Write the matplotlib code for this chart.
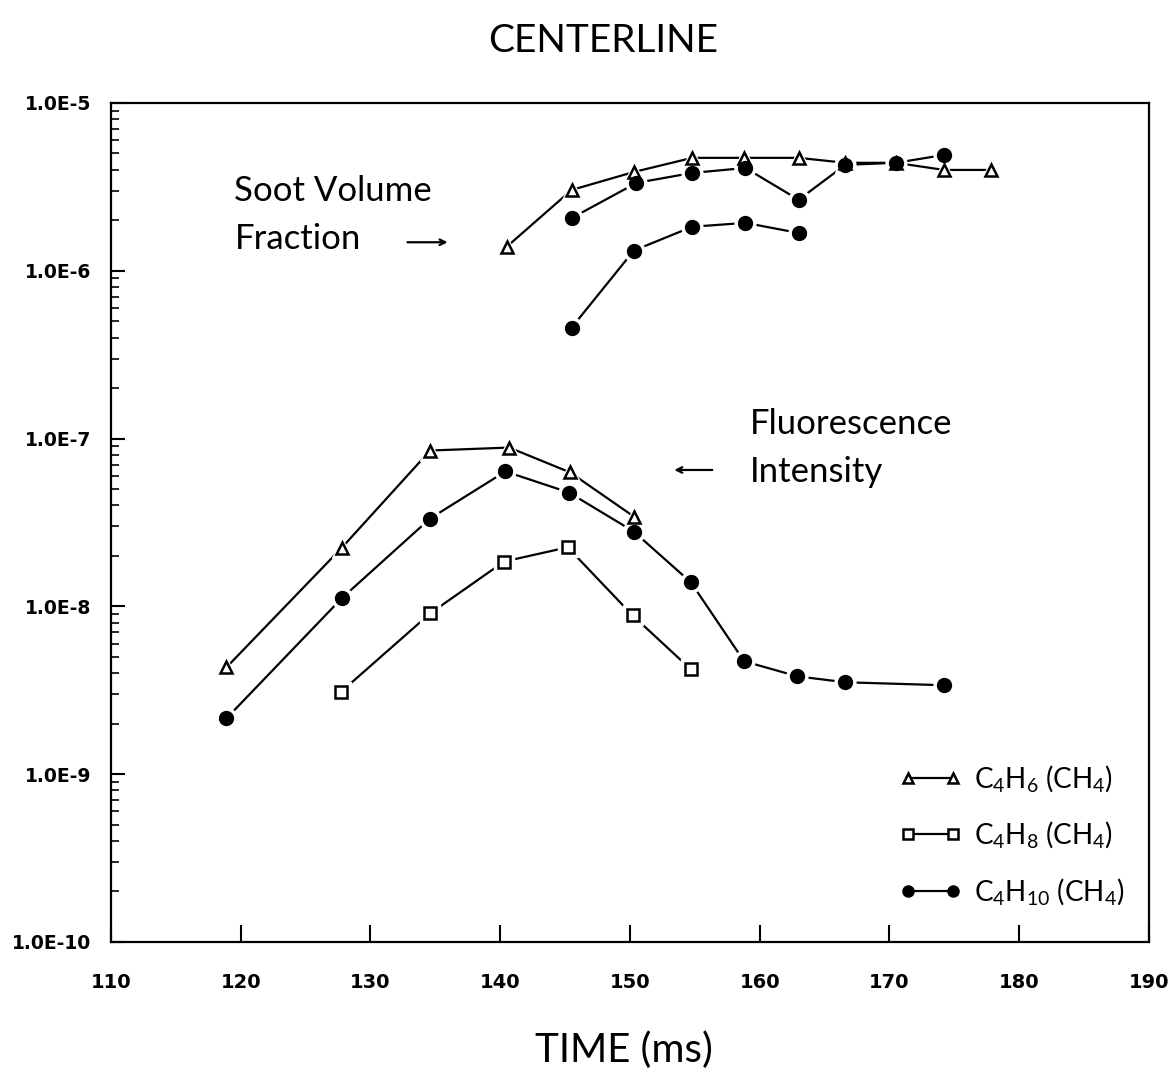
import numpy as np
import matplotlib.pyplot as plt
from matplotlib.lines import Line2D
from matplotlib.ticker import FixedLocator, FixedFormatter, LogLocator, NullFormatter

plt.rcParams['font.family'] = ['Lato', 'DejaVu Sans']
plt.rcParams['mathtext.fontset'] = 'custom'
plt.rcParams['mathtext.rm'] = 'Lato'
plt.rcParams['mathtext.it'] = 'Lato:italic'

# soot volume fraction (upper group)
t_soot_c4h6 = [140.5, 145.5, 150.3, 154.8, 158.8, 163.0, 166.6, 170.5, 174.2, 177.8]
v_soot_c4h6 = [1.39e-6, 3.03e-6, 3.88e-6, 4.71e-6, 4.71e-6, 4.71e-6, 4.40e-6, 4.40e-6, 3.99e-6, 3.99e-6]

t_soot_c4h10a = [145.5, 150.5, 154.8, 158.9, 163.0, 166.6, 170.5, 174.2]
v_soot_c4h10a = [2.06e-6, 3.34e-6, 3.83e-6, 4.10e-6, 2.65e-6, 4.28e-6, 4.40e-6, 4.90e-6]

t_soot_c4h10b = [145.5, 150.3, 154.8, 158.9, 163.0]
v_soot_c4h10b = [4.58e-7, 1.32e-6, 1.83e-6, 1.93e-6, 1.68e-6]

# fluorescence intensity (lower group)
t_fl_c4h6 = [118.9, 127.8, 134.6, 140.7, 145.4, 150.3]
v_fl_c4h6 = [4.33e-9, 2.24e-8, 8.49e-8, 8.84e-8, 6.28e-8, 3.43e-8]

t_fl_c4h8 = [127.7, 134.6, 140.3, 145.2, 150.2, 154.7]
v_fl_c4h8 = [3.08e-9, 9.08e-9, 1.85e-8, 2.25e-8, 8.84e-9, 4.21e-9]

t_fl_c4h10 = [118.9, 127.8, 134.6, 140.4, 145.3, 150.3, 154.7, 158.8, 162.9, 166.6, 174.2]
v_fl_c4h10 = [2.15e-9, 1.12e-8, 3.34e-8, 6.37e-8, 4.77e-8, 2.79e-8, 1.39e-8, 4.71e-9,
              3.83e-9, 3.53e-9, 3.39e-9]

x_ticks = [110, 120, 130, 140, 150, 160, 170, 180, 190]
y_ticks = [1e-10, 1e-9, 1e-8, 1e-7, 1e-6, 1e-5]
y_labels = ['1.0E-10', '1.0E-9', '1.0E-8', '1.0E-7', '1.0E-6', '1.0E-5']
legend_labels = [r'C$_4$H$_6$ (CH$_4$)', r'C$_4$H$_8$ (CH$_4$)', r'C$_4$H$_{10}$ (CH$_4$)']

styles = {
    'tri': dict(marker='^', markersize=9, markerfacecolor='white', markeredgecolor='black', markeredgewidth=1.8),
    'sq': dict(marker='s', markersize=9, markerfacecolor='white', markeredgecolor='black', markeredgewidth=1.8),
    'dot': dict(marker='o', markersize=10, markerfacecolor='black', markeredgecolor='black', markeredgewidth=1),
}

fig = plt.figure(figsize=(11.68, 10.84), dpi=100)
ax = fig.add_axes([0.095, 0.131, 0.8887, 0.774])


def draw(t, v, kind):
    st = styles[kind]
    ax.plot(t, v, color='black', lw=1.6, zorder=2)
    # white halo so the line stops short of each marker
    ax.plot(t, v, ls='none', marker=st['marker'], markersize=st['markersize'] + 5,
            markerfacecolor='white', markeredgecolor='white', zorder=3)
    ax.plot(t, v, ls='none', zorder=4, **st)


draw(t_soot_c4h6, v_soot_c4h6, 'tri')
draw(t_soot_c4h10a, v_soot_c4h10a, 'dot')
draw(t_soot_c4h10b, v_soot_c4h10b, 'dot')
draw(t_fl_c4h6, v_fl_c4h6, 'tri')
draw(t_fl_c4h8, v_fl_c4h8, 'sq')
draw(t_fl_c4h10, v_fl_c4h10, 'dot')

ax.set_yscale('log')
ax.set_xlim(110, 190)
ax.set_ylim(1e-10, 1e-5)

ax.xaxis.set_major_locator(FixedLocator(x_ticks))
ax.set_xticklabels([str(x) for x in x_ticks])
ax.yaxis.set_major_locator(FixedLocator(y_ticks))
ax.yaxis.set_major_formatter(FixedFormatter(y_labels))
ax.yaxis.set_minor_locator(LogLocator(base=10, subs=np.arange(2, 10)))
ax.yaxis.set_minor_formatter(NullFormatter())

ax.tick_params(axis='x', direction='in', length=12, width=1.5, top=False,
               labelsize=14, pad=22)
ax.tick_params(axis='y', which='major', direction='in', length=10, width=1.5,
               right=False, labelsize=13.5, pad=14)
ax.tick_params(axis='y', which='minor', direction='in', length=6, width=1.2, right=False)
for lab in ax.get_xticklabels() + ax.get_yticklabels():
    lab.set_fontweight('bold')
    lab.set_family('DejaVu Sans')
for s in ax.spines.values():
    s.set_linewidth(1.6)

ax.set_title('CENTERLINE', fontsize=28, pad=37, x=0.474)
ax.set_xlabel('TIME (ms)', fontsize=29)
ax.xaxis.set_label_coords(0.494, -0.1287)
ax.xaxis.label.set_va('center')

ax.text(0.119, 0.914, 'Soot Volume\nFraction', transform=ax.transAxes, fontsize=25,
        va='top', ha='left', linespacing=1.62)
ax.annotate('', xy=(0.327, 0.834), xytext=(0.283, 0.834), xycoords='axes fraction',
            arrowprops=dict(arrowstyle='->', lw=1.6, color='black'))
ax.text(0.616, 0.637, 'Fluorescence\nIntensity', transform=ax.transAxes, fontsize=25,
        va='top', ha='left', linespacing=1.62)
ax.annotate('', xy=(0.54, 0.5626), xytext=(0.582, 0.5626), xycoords='axes fraction',
            arrowprops=dict(arrowstyle='->', lw=1.6, color='black'))

handles = [
    Line2D([], [], color='black', lw=1.6, **{**styles['tri'], 'markersize': 7}),
    Line2D([], [], color='black', lw=1.6, **{**styles['sq'], 'markersize': 7}),
    Line2D([], [], color='black', lw=1.6, **{**styles['dot'], 'markersize': 8}),
]
ax.legend(handles, legend_labels, loc='lower right', frameon=False, numpoints=2,
          fontsize=20, handlelength=2.2, labelspacing=0.92, handletextpad=0.45,
          bbox_to_anchor=(1.0, 0.012))

fig.savefig('out.png', dpi=100)
